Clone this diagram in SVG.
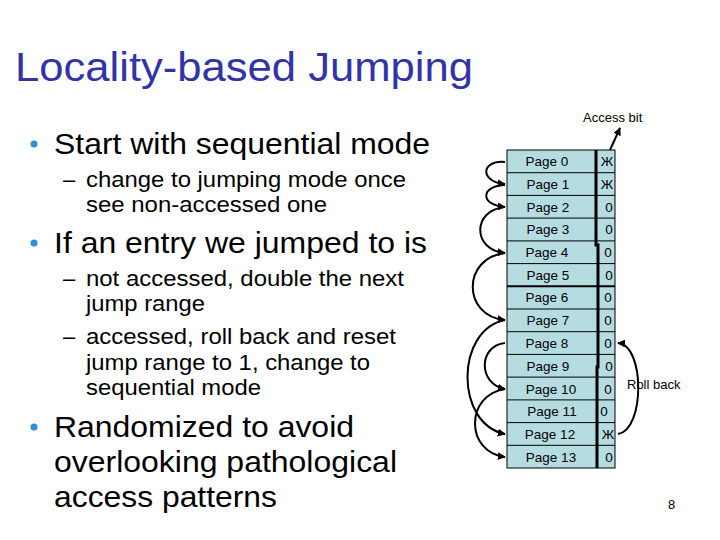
<svg xmlns="http://www.w3.org/2000/svg" width="720" height="540" viewBox="0 0 720 540">
<style>
text{font-family:"Liberation Sans",Arial,sans-serif}
.t{font-size:41px;fill:#3333a8}
.b1{font-size:29px;fill:#000}
.b2{font-size:22px;fill:#000}
.dot{fill:#2e8fd6}
.cell{fill:#b5dce0;stroke:#000;stroke-width:1}
.pg{font-size:13.5px;fill:#000;text-anchor:middle}
.bit{font-size:13.5px;fill:#000;text-anchor:middle}
.arc{fill:none;stroke:#000;stroke-width:2}
.sm{font-size:13px;fill:#000}
</style>
<defs>
<marker id="ah" viewBox="0 0 10 10" refX="9" refY="5" markerWidth="4" markerHeight="4" orient="auto"><path d="M0,0L10,5L0,10z" fill="#000"/></marker>
</defs>
<text class="t" x="15" y="81" textLength="458" lengthAdjust="spacingAndGlyphs">Locality-based Jumping</text>
<g id="bullets">
<circle class="dot" cx="34" cy="144" r="3.5"/>
<text class="b1" x="54" y="154" textLength="376" lengthAdjust="spacingAndGlyphs">Start with sequential mode</text>
<text class="b2" x="63" y="187">–</text>
<text class="b2" x="86" y="187" textLength="320" lengthAdjust="spacingAndGlyphs">change to jumping mode once</text>
<text class="b2" x="86" y="212" textLength="241" lengthAdjust="spacingAndGlyphs">see non-accessed one</text>
<circle class="dot" cx="34" cy="243" r="3.5"/>
<text class="b1" x="54" y="253" textLength="373" lengthAdjust="spacingAndGlyphs">If an entry we jumped to is</text>
<text class="b2" x="63" y="286">–</text>
<text class="b2" x="86" y="286" textLength="318" lengthAdjust="spacingAndGlyphs">not accessed, double the next</text>
<text class="b2" x="86" y="311" textLength="119" lengthAdjust="spacingAndGlyphs">jump range</text>
<text class="b2" x="63" y="344">–</text>
<text class="b2" x="86" y="344" textLength="310" lengthAdjust="spacingAndGlyphs">accessed, roll back and reset</text>
<text class="b2" x="86" y="370" textLength="284" lengthAdjust="spacingAndGlyphs">jump range to 1, change to</text>
<text class="b2" x="86" y="395" textLength="175" lengthAdjust="spacingAndGlyphs">sequential mode</text>
<circle class="dot" cx="34" cy="427" r="3.5"/>
<text class="b1" x="54" y="437" textLength="300" lengthAdjust="spacingAndGlyphs">Randomized to avoid</text>
<text class="b1" x="54" y="472" textLength="343" lengthAdjust="spacingAndGlyphs">overlooking pathological</text>
<text class="b1" x="54" y="507" textLength="223" lengthAdjust="spacingAndGlyphs">access patterns</text>
</g>
<g id="table">
<rect class="cell" x="507" y="150" width="108" height="318"/>
<g stroke="#000" stroke-width="1">
<line x1="507" y1="172.7" x2="615" y2="172.7"/><line x1="507" y1="195.4" x2="615" y2="195.4"/>
<line x1="507" y1="218.1" x2="615" y2="218.1"/><line x1="507" y1="240.9" x2="615" y2="240.9"/>
<line x1="507" y1="263.6" x2="615" y2="263.6"/><line x1="507" y1="286.3" x2="615" y2="286.3" stroke-width="2"/>
<line x1="507" y1="309" x2="615" y2="309"/><line x1="507" y1="331.7" x2="615" y2="331.7"/>
<line x1="507" y1="354.4" x2="615" y2="354.4"/><line x1="507" y1="377.1" x2="615" y2="377.1"/>
<line x1="507" y1="399.9" x2="615" y2="399.9"/><line x1="507" y1="422.6" x2="615" y2="422.6"/>
<line x1="507" y1="445.3" x2="615" y2="445.3"/>
</g>
<polyline points="596,150 596,245 598,245 598,367 597,367 597,468" fill="none" stroke="#000" stroke-width="3"/>
<text class="pg" x="547" y="166">Page 0</text><text class="bit" x="607" y="166">Ж</text>
<text class="pg" x="548" y="189">Page 1</text><text class="bit" x="607" y="189">Ж</text>
<text class="pg" x="548" y="212">Page 2</text><text class="bit" x="609" y="212">0</text>
<text class="pg" x="548" y="234">Page 3</text><text class="bit" x="609" y="234">0</text>
<text class="pg" x="547" y="257">Page 4</text><text class="bit" x="608" y="257">0</text>
<text class="pg" x="548" y="280">Page 5</text><text class="bit" x="609" y="280">0</text>
<text class="pg" x="547" y="302">Page 6</text><text class="bit" x="608" y="302">0</text>
<text class="pg" x="548" y="325">Page 7</text><text class="bit" x="608" y="325">0</text>
<text class="pg" x="547" y="348">Page 8</text><text class="bit" x="608" y="348">0</text>
<text class="pg" x="548" y="371">Page 9</text><text class="bit" x="609" y="371">0</text>
<text class="pg" x="551" y="394">Page 10</text><text class="bit" x="608" y="394">0</text>
<text class="pg" x="552" y="416">Page 11</text><text class="bit" x="604" y="416">0</text>
<text class="pg" x="550" y="439">Page 12</text><text class="bit" x="608" y="439">Ж</text>
<text class="pg" x="551" y="462">Page 13</text><text class="bit" x="609" y="462">0</text>
</g>
<g id="connectors">
<path class="arc" d="M505,162 C480,160 480,182 505,184" marker-end="url(#ah)"/>
<path class="arc" d="M505,185 C480,186 480,205 505,207" marker-end="url(#ah)"/>
<path class="arc" d="M505,207 C472,210 472,250 505,253" marker-end="url(#ah)"/>
<path class="arc" d="M505,253 C462,258 462,316 505,320" marker-end="url(#ah)"/>
<path class="arc" d="M505,343 C478,346 478,384 505,389" marker-end="url(#ah)"/>
<path class="arc" d="M505,320 C455,330 455,424 505,434" marker-end="url(#ah)"/>
<path class="arc" d="M505,389 C465,395 465,452 505,457" marker-end="url(#ah)"/>
<path class="arc" d="M618,434 C645,430 645,345 618,343" marker-end="url(#ah)"/>
<path class="arc" d="M610,150 L620,128" marker-end="url(#ah)"/>
</g>
<text class="sm" x="583" y="122">Access bit</text>
<text class="sm" x="627" y="389">Roll back</text>
<text class="sm" x="668" y="509">8</text>
</svg>
